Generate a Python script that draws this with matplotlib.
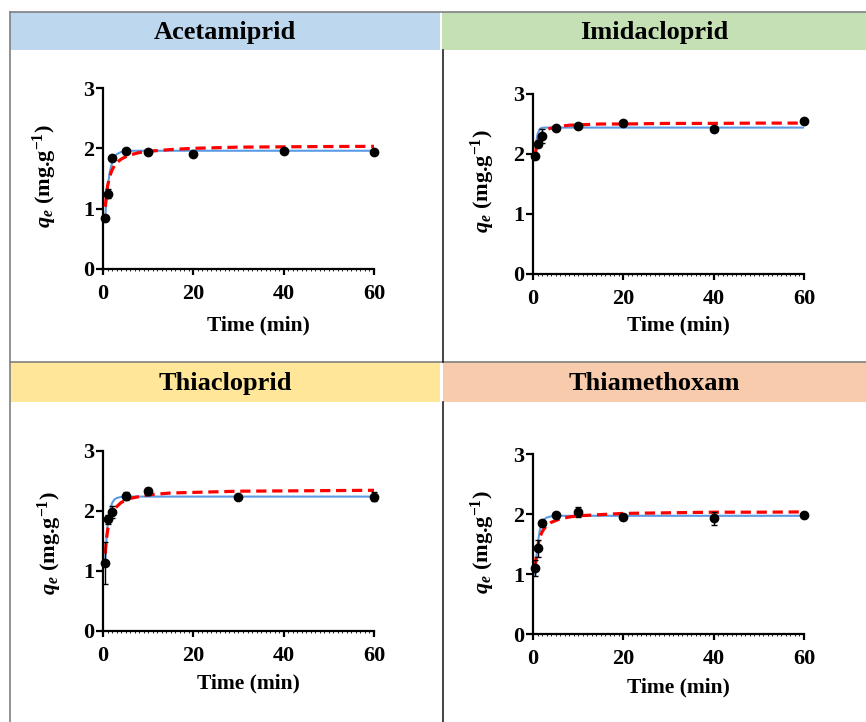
import matplotlib
matplotlib.use('Agg')
import matplotlib.pyplot as plt
from matplotlib.patches import Rectangle
from matplotlib.lines import Line2D
from matplotlib.ticker import MultipleLocator

plt.rcParams['font.family'] = 'Liberation Serif'
plt.rcParams['font.weight'] = 'bold'
plt.rcParams['mathtext.fontset'] = 'custom'
plt.rcParams['mathtext.it'] = 'Liberation Serif:italic'
plt.rcParams['mathtext.rm'] = 'Liberation Serif:bold'
plt.rcParams['mathtext.bf'] = 'Liberation Serif:bold'

W, H = 866, 722

titles = ['Acetamiprid', 'Imidacloprid', 'Thiacloprid', 'Thiamethoxam']
header_colors = ['#BDD7EE', '#C5E0B4', '#FFE699', '#F8CBAD']

# experimental points (time in min, qe in mg/g, sd)
t_ace = [0.5, 1, 2, 5, 10, 20, 40, 60]
q_ace = [0.84, 1.25, 1.84, 1.96, 1.94, 1.90, 1.96, 1.94]
e_ace = [0.02, 0.07, 0.03, 0.02, 0.02, 0.02, 0.02, 0.03]

t_imi = [0.5, 1, 2, 5, 10, 20, 40, 60]
q_imi = [1.97, 2.17, 2.30, 2.43, 2.47, 2.51, 2.42, 2.55]
e_imi = [0.03, 0.04, 0.11, 0.02, 0.03, 0.02, 0.02, 0.02]

t_thc = [0.5, 1, 2, 5, 10, 30, 60]
q_thc = [1.13, 1.86, 1.99, 2.25, 2.33, 2.23, 2.24]
e_thc = [0.35, 0.07, 0.10, 0.07, 0.06, 0.02, 0.08]

t_thm = [0.5, 1, 2, 5, 10, 20, 40, 60]
q_thm = [1.10, 1.43, 1.85, 1.98, 2.03, 1.95, 1.93, 1.98]
e_thm = [0.13, 0.14, 0.03, 0.02, 0.08, 0.05, 0.11, 0.02]

# fitted curves (blue solid, red dashed)
curve_t = [0.5, 0.75, 1, 1.5, 2, 2.5, 3, 4, 5, 6, 8, 10, 15, 20, 30, 40, 50, 60]
blue_ace = [0.85, 1.13, 1.33, 1.61, 1.76, 1.85, 1.90, 1.94, 1.95, 1.96, 1.96, 1.96,
            1.96, 1.96, 1.96, 1.96, 1.96, 1.96]
red_ace = [1.03, 1.23, 1.37, 1.54, 1.64, 1.71, 1.76, 1.82, 1.86, 1.89, 1.93, 1.95,
           1.98, 2.00, 2.02, 2.025, 2.03, 2.033]
blue_imi = [1.93, 2.21, 2.33, 2.42, 2.435, 2.44, 2.44, 2.44, 2.44, 2.44, 2.44, 2.44,
            2.44, 2.44, 2.44, 2.44, 2.44, 2.44]
red_imi = [1.97, 2.12, 2.21, 2.30, 2.35, 2.39, 2.41, 2.43, 2.45, 2.46, 2.48, 2.485,
           2.50, 2.50, 2.51, 2.51, 2.515, 2.515]
blue_thc = [1.18, 1.51, 1.74, 2.00, 2.13, 2.19, 2.215, 2.235, 2.24, 2.24, 2.24, 2.24,
            2.24, 2.24, 2.24, 2.24, 2.24, 2.24]
red_thc = [1.29, 1.52, 1.67, 1.85, 1.96, 2.03, 2.07, 2.14, 2.18, 2.21, 2.24, 2.27,
           2.30, 2.31, 2.33, 2.335, 2.34, 2.345]
blue_thm = [0.99, 1.28, 1.48, 1.73, 1.85, 1.91, 1.94, 1.96, 1.97, 1.97, 1.97, 1.97,
            1.97, 1.97, 1.97, 1.97, 1.97, 1.97]
red_thm = [1.12, 1.32, 1.45, 1.61, 1.70, 1.76, 1.80, 1.86, 1.89, 1.92, 1.95, 1.97,
           1.99, 2.01, 2.02, 2.03, 2.03, 2.035]

panels = [
    (t_ace, q_ace, e_ace, blue_ace, red_ace),
    (t_imi, q_imi, e_imi, blue_imi, red_imi),
    (t_thc, q_thc, e_thc, blue_thc, red_thc),
    (t_thm, q_thm, e_thm, blue_thm, red_thm),
]

# pixel layout: axes (left, right, top, bottom), ylabel centre, xlabel centre
axes_px = [(103, 374, 88, 269), (533, 804, 94, 274),
           (103, 374, 451, 631), (533, 804, 454, 634)]
ylab_px = [(45, 176), (483, 181), (50, 543), (483, 542)]
xlab_px = [(258, 325), (678, 325), (248, 683), (678, 687)]

fig = plt.figure(figsize=(W / 100, H / 100), dpi=100)


def fx(x):
    return x / W


def fy(y):
    return 1 - y / H


# header boxes
header_boxes = [(10, 440, 12, 50), (442, 866, 12, 50),
                (10, 440, 362, 402), (443, 866, 362, 402)]
for (x0, x1, y0, y1), col, title in zip(header_boxes, header_colors, titles):
    fig.patches.append(Rectangle((fx(x0), fy(y1)), fx(x1 - x0), (y1 - y0) / H,
                                 transform=fig.transFigure, facecolor=col,
                                 edgecolor='none', zorder=0))
    fig.text(fx((x0 + x1) / 2), fy((y0 + y1) / 2 + 1), title, ha='center',
             va='center', fontsize=19, fontweight='bold')

# frame lines
frame = [((10, 866), (12, 12), '#808080'), ((10, 866), (362, 362), '#808080'),
         ((10, 10), (12, 722), '#808080'), ((443, 443), (50, 362), '#222222'),
         ((443, 443), (402, 722), '#222222')]
for xs, ys, c in frame:
    fig.lines.append(Line2D([fx(v) for v in xs], [fy(v) for v in ys],
                            transform=fig.transFigure, color=c, lw=1.2))

for i, (t, q, e, blue, red) in enumerate(panels):
    l, r, tp, b = axes_px[i]
    ax = fig.add_axes([fx(l), fy(b), (r - l) / W, (b - tp) / H])
    ax.plot(curve_t, blue, color='#5A9BE6', lw=1.5, zorder=2)
    ax.plot(curve_t, red, color='#FF0000', lw=2.3, dashes=(3.2, 1.8), zorder=3)
    ax.errorbar(t, q, yerr=e, fmt='o', color='black', ms=6, elinewidth=1,
                capsize=2.5, capthick=1, zorder=4, clip_on=False)
    ax.set_xlim(0, 60)
    ax.set_ylim(0, 3)
    ax.set_xticks([0, 20, 40, 60])
    ax.set_yticks([0, 1, 2, 3])
    ax.xaxis.set_minor_locator(MultipleLocator(1))
    ax.spines['top'].set_visible(False)
    ax.spines['right'].set_visible(False)
    for s in ('left', 'bottom'):
        ax.spines[s].set_linewidth(1.6)
    ax.tick_params(axis='x', which='major', length=4, width=1.6, pad=7, labelsize=16)
    ax.tick_params(axis='x', which='minor', length=1.2, width=0.6)
    ax.tick_params(axis='y', which='major', length=5, width=1.6, pad=1, labelsize=16)
    for lab in ax.get_xticklabels() + ax.get_yticklabels():
        lab.set_fontweight('bold')
    fig.text(fx(xlab_px[i][0]), fy(xlab_px[i][1]), 'Time (min)', ha='center',
             va='center', fontsize=15.5, fontweight='bold')
    fig.text(fx(ylab_px[i][0]), fy(ylab_px[i][1]), r'$q_e$ (mg.g$^{-1}$)',
             ha='center', va='center', rotation=90, fontsize=16, fontweight='bold')

fig.savefig('out.png', dpi=100)
